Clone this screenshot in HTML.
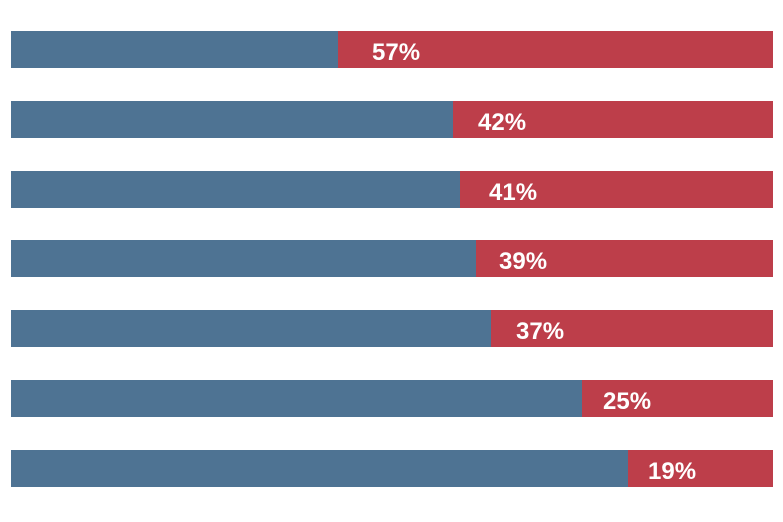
<!DOCTYPE html>
<html><head><meta charset="utf-8"><style>
body{margin:0;width:783px;height:522px;background:#fff;overflow:hidden;position:relative;font-family:"Liberation Sans",sans-serif}
.b{position:absolute;left:11px;width:762px;height:37px;background:#bd3e4a}
.l{position:absolute;left:0;top:0;height:37px;background:#4e7393}
.t{position:absolute;top:3px;line-height:37px;color:#fff;font-weight:bold;font-size:24px}
</style></head><body>
<div class="b" style="top:31px"><div class="l" style="width:327px"></div><div class="t" style="left:361px">57%</div></div>
<div class="b" style="top:101px"><div class="l" style="width:442px"></div><div class="t" style="left:467px">42%</div></div>
<div class="b" style="top:171px"><div class="l" style="width:449px"></div><div class="t" style="left:478px">41%</div></div>
<div class="b" style="top:240px"><div class="l" style="width:465px"></div><div class="t" style="left:488px">39%</div></div>
<div class="b" style="top:310px"><div class="l" style="width:480px"></div><div class="t" style="left:505px">37%</div></div>
<div class="b" style="top:380px"><div class="l" style="width:571px"></div><div class="t" style="left:592px">25%</div></div>
<div class="b" style="top:450px"><div class="l" style="width:617px"></div><div class="t" style="left:637px">19%</div></div>
</body></html>
